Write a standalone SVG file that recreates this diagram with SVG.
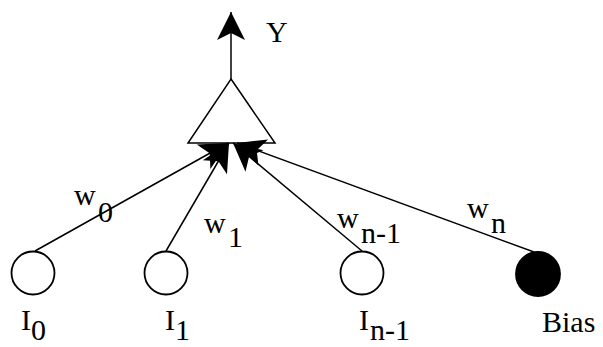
<svg xmlns="http://www.w3.org/2000/svg" width="603" height="347" viewBox="0 0 603 347">
<style>
.ln{stroke:#000;stroke-width:1.5;fill:none}
.nd{stroke:#000;stroke-width:1.8;fill:#fff}
.bias{stroke:#000;stroke-width:1.8;fill:#000}
text{font-family:"Liberation Serif","Times New Roman",serif;font-size:30px;fill:#000}
</style>
<defs>
<marker id="ah" viewBox="-30 -15 32 30" refX="0" refY="0" markerWidth="32" markerHeight="30" markerUnits="userSpaceOnUse" orient="auto" overflow="visible">
<path d="M0,0 L-28,-14 L-21,0 L-28,14 Z" fill="#000"/>
</marker>
</defs>
<rect width="603" height="347" fill="#fff"/>
<g id="connectors">
<line class="ln" x1="231" y1="79" x2="231" y2="12" marker-end="url(#ah)"/>
<line class="ln" x1="35" y1="251" x2="228" y2="143" marker-end="url(#ah)"/>
<line class="ln" x1="166" y1="251" x2="229" y2="143" marker-end="url(#ah)"/>
<line class="ln" x1="362" y1="251" x2="233" y2="143" marker-end="url(#ah)"/>
<line class="ln" x1="534" y1="252" x2="237" y2="143" marker-end="url(#ah)"/>
</g>
<g id="neuron">
<path class="ln" d="M231,79 L275,143 L188,143 Z"/>
</g>
<g id="output"><text x="266" y="42">Y</text></g>
<g id="i0">
<circle class="nd" cx="33" cy="273" r="21.5"/>
<text x="21" y="330">I</text><text x="31" y="340">0</text>
</g>
<g id="i1">
<circle class="nd" cx="166" cy="273" r="21.5"/>
<text x="165" y="330">I</text><text x="175" y="340">1</text>
</g>
<g id="in1">
<circle class="nd" cx="362" cy="273" r="21.5"/>
<text x="359" y="330">I</text><text x="370" y="340">n-1</text>
</g>
<g id="bias">
<circle class="bias" cx="538" cy="274" r="22"/>
<text x="542" y="332">Bias</text>
</g>
<g id="weights">
<text x="74" y="205">w</text><text x="98" y="222">0</text>
<text x="204" y="233">w</text><text x="228" y="247">1</text>
<text x="337" y="228">w</text><text x="361" y="243">n-1</text>
<text x="467" y="218">w</text><text x="491" y="233">n</text>
</g>
</svg>
